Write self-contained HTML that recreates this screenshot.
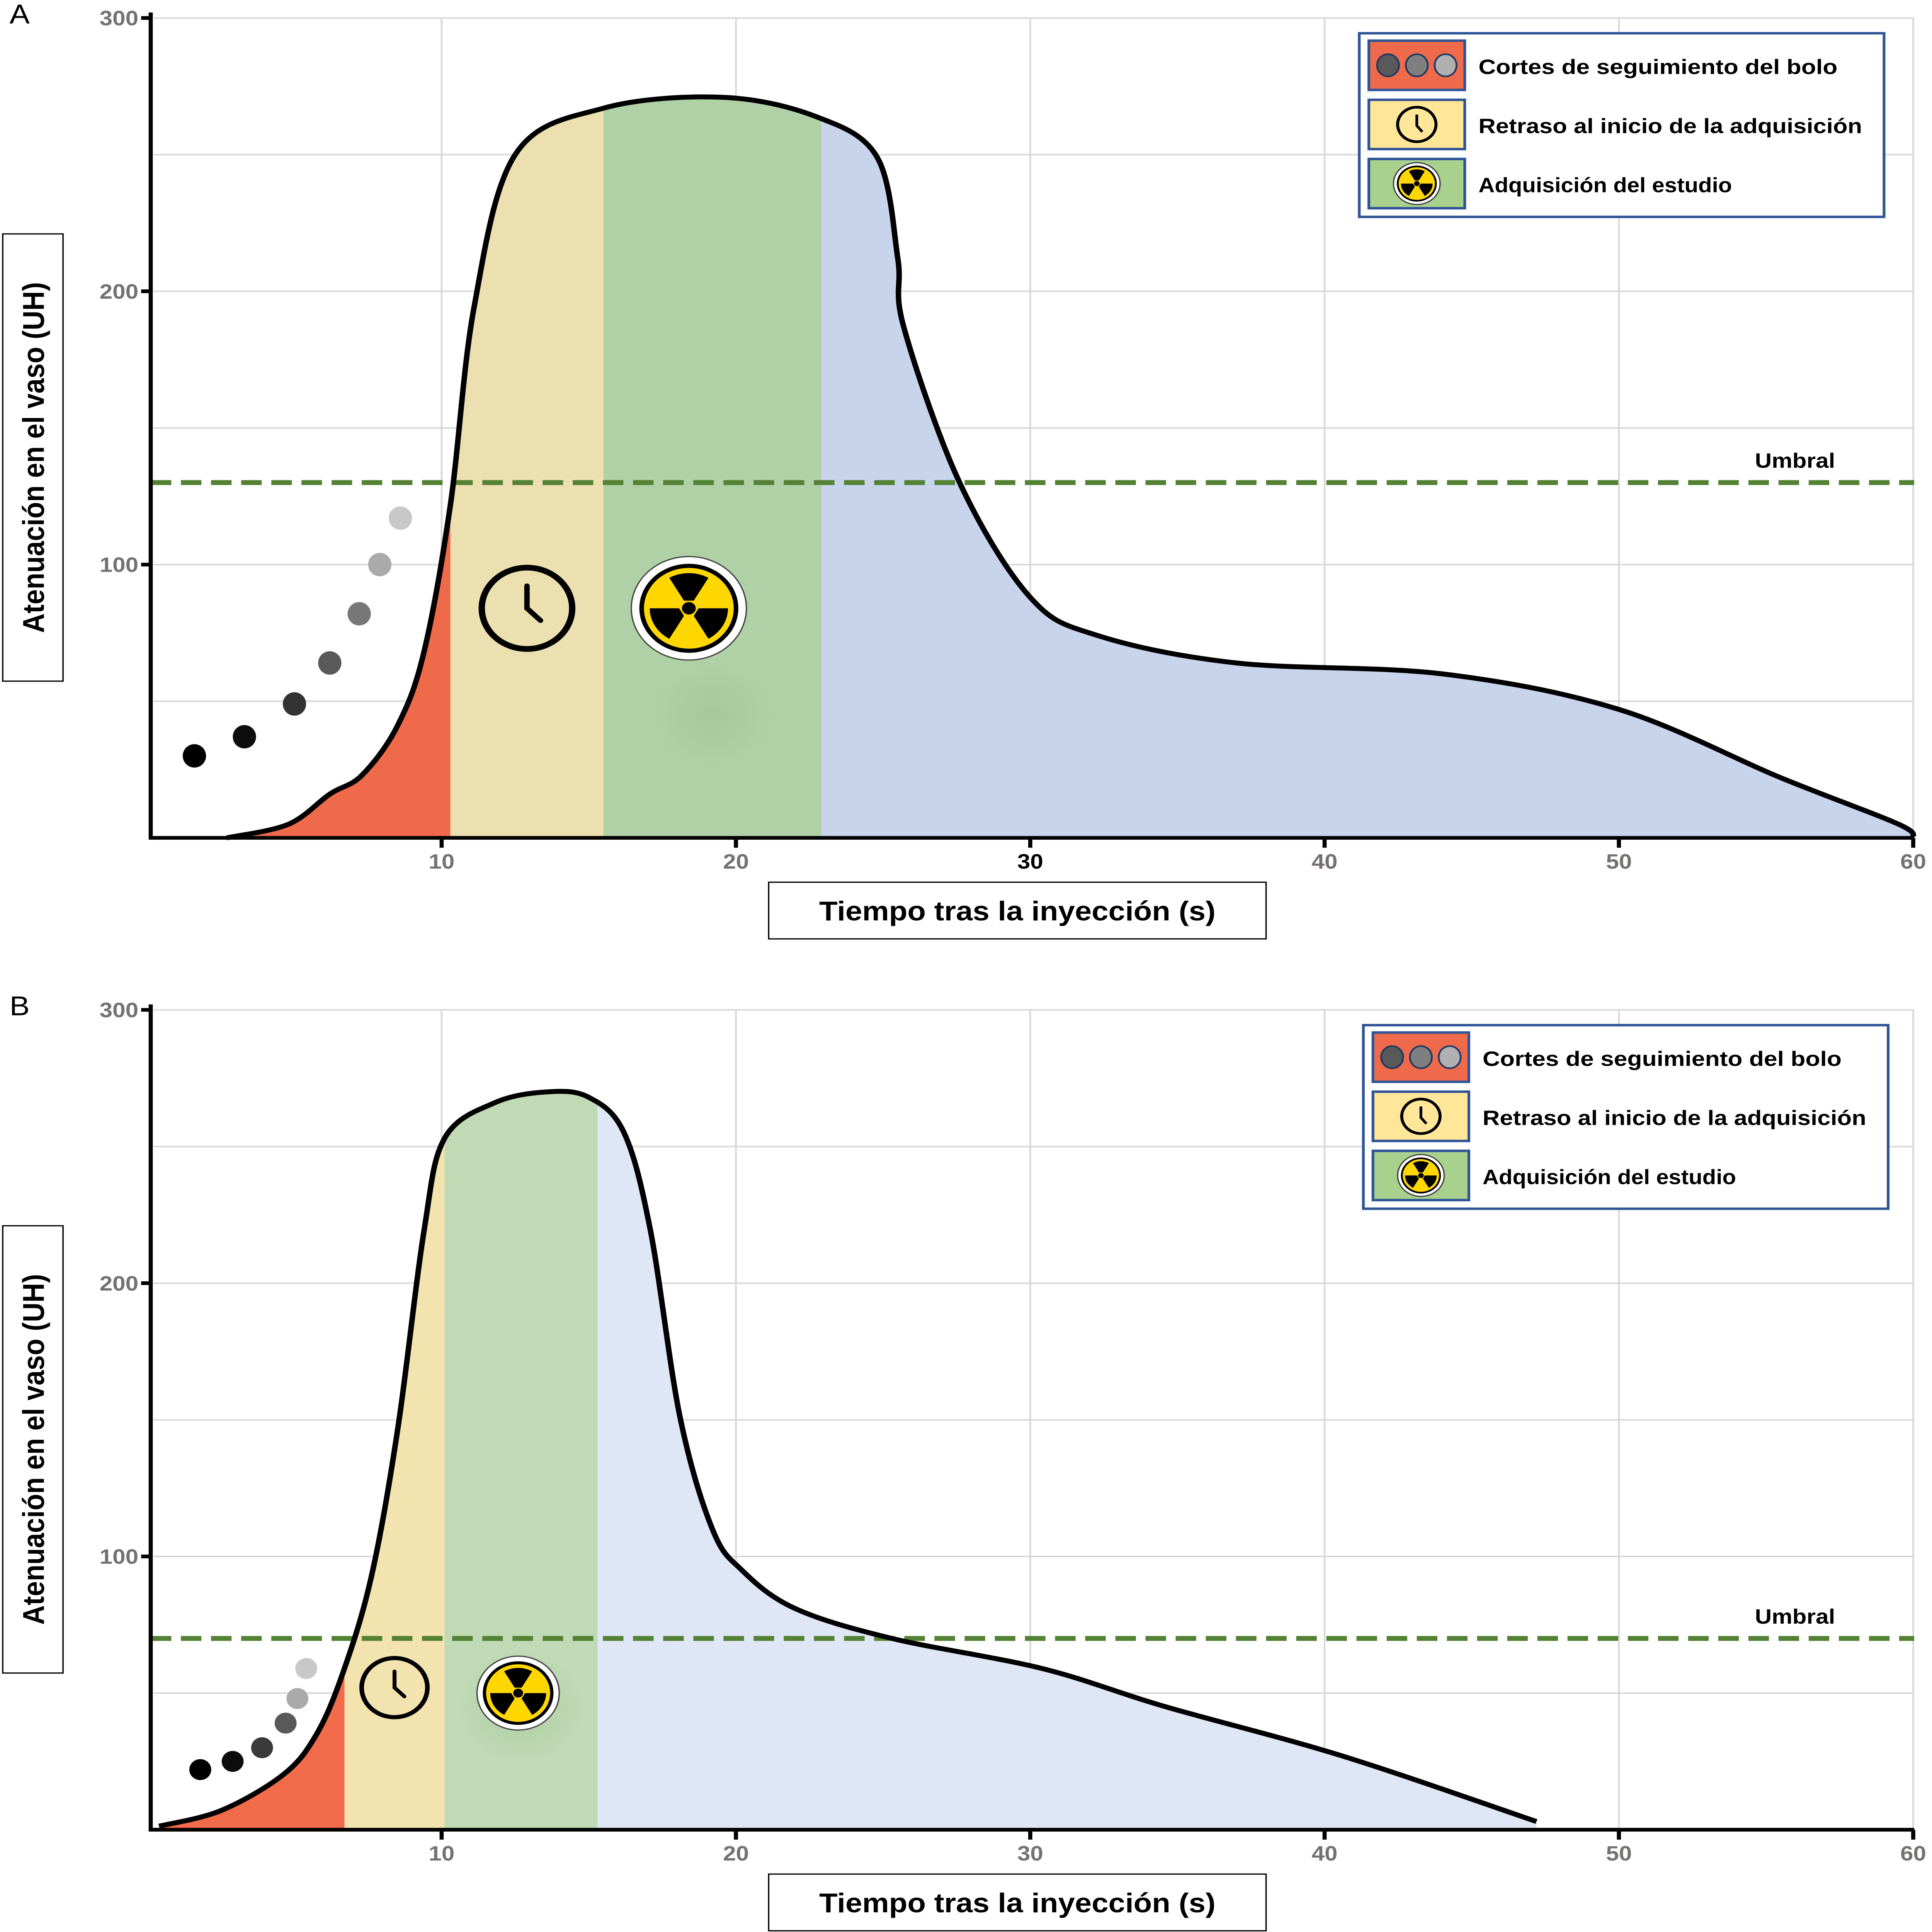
<!DOCTYPE html>
<html><head><meta charset="utf-8"><style>
html,body{margin:0;padding:0;background:#fff;width:100%;height:100%;overflow:hidden;}
svg{display:block;position:fixed;left:0;top:0;width:100vw;height:100vh;}
text{font-family:"Liberation Sans",sans-serif;}
</style></head><body>
<svg viewBox="0 0 1410 1568" preserveAspectRatio="none" xmlns="http://www.w3.org/2000/svg">
<defs>
<radialGradient id="blur"><stop offset="0" stop-color="#9cbf8c" stop-opacity="0.5"/><stop offset="1" stop-color="#9cbf8c" stop-opacity="0"/></radialGradient>
</defs>
<g id="fig"></g>
</svg>
<script>
// Panel A data
const timesA = [2.7,4.8,6.2,7.3,8.5,9.4,10.3,11.1,12.5,15.5,19.5,22.7,24.8,25.5,25.7,27.6,30,32.3,37,44,50,55.5,59.5,60];
const huA =    [0,5,16,23,41,68,122,194,250,267,271,264,249,212,187,130,88,74,64,60,47,22,5,0];
const phasesA = [10.3,15.5,22.9];
const thresholdA = 130;
const bolusTA = [1.6,3.3,5,6.2,7.2,7.9,8.6];
const bolusHA = [30,37,49,64,82,100,117];
// Panel B data
const timesB = [0.4,2.5,4.6,5.7,6.6,7.6,8.5,9.4,10.1,11.8,13.6,15,16.2,17.1,18.1,19.2,20.2,22,25.3,30.4,34.6,40.6,47.2];
const huB =    [1.3,7,20,34,56,92,146,219,253,266,270,268,255,219,151,110,95,81,70,59,45,27,3];
const phasesB = [6.7,10.1,15.3];
const thresholdB = 70;
const bolusTB = [1.8,2.9,3.9,4.7,5.1,5.4];
const bolusHB = [22,25,30,39,48,59];
const xTicks = [10,20,30,40,50,60];
const yTicks = [100,200,300];

const NS='http://www.w3.org/2000/svg';
const svg=document.getElementById('fig');
function mk(tag,attrs,parent){const e=document.createElementNS(NS,tag);for(const k in attrs)e.setAttribute(k,attrs[k]);(parent||svg).appendChild(e);return e;}
function smooth(pts){let d='M'+pts[0][0]+','+pts[0][1];for(let i=0;i<pts.length-1;i++){const p0=pts[Math.max(0,i-1)],p1=pts[i],p2=pts[i+1],p3=pts[Math.min(pts.length-1,i+2)];const c1=[p1[0]+(p2[0]-p0[0])/6,p1[1]+(p2[1]-p0[1])/6],c2=[p2[0]-(p3[0]-p1[0])/6,p2[1]-(p3[1]-p1[1])/6];d+=` C${c1[0]},${c1[1]} ${c2[0]},${c2[1]} ${p2[0]},${p2[1]}`;}return d;}

function panel(id,label,y0,times,hu,phases,thr,bt,bh,cols,clockR,radR,legY){
  const X=t=>107.5+t*21.48, Y=v=>y0-v*2.218;
  const g=mk('g',{});
  
  
  for(let v=50;v<=300;v+=50){const l=mk('line',{x1:112,x2:1397,y1:Y(v),y2:Y(v),stroke:'#d9d9d9','stroke-width':1.3},g);}
  xTicks.forEach(t=>{const l=mk('line',{x1:X(t),x2:X(t),y1:Y(300),y2:y0,stroke:'#d9d9d9','stroke-width':1.3},g);});
  const pts=times.map((t,i)=>[X(t),Y(hu[i])]);
  const dCurve=smooth(pts);
  const cid='clip'+id;
  const cp=mk('clipPath',{id:cid},g);
  mk('path',{d:dCurve+` L${X(times[times.length-1])},${y0} L${X(times[0])},${y0} Z`},cp);
  const bounds=[times[0],phases[0],phases[1],phases[2],times[times.length-1]];
  const names=['bolus-tracking-area','delay-area','acquisition-area','post-area'];
  for(let i=0;i<4;i++){const r=mk('rect',{x:X(bounds[i]),y:Y(300),width:X(bounds[i+1])-X(bounds[i]),height:y0-Y(300),fill:cols[i],'clip-path':`url(#${cid})`},g);}
  mk('ellipse',{cx:X((phases[1]+phases[2])/2),cy:Y(45),rx:45,ry:45,fill:'url(#blur)'},g);
  const th=mk('line',{x1:110,x2:1397,y1:Y(thr),y2:Y(thr),stroke:'#548235','stroke-width':4,'stroke-dasharray':'15 7'},g);
  
  const tl=mk('text',{x:1310,y:Y(thr)-12,'font-size':17,'font-weight':'bold','text-anchor':'middle'},g);tl.textContent='Umbral';
  
  const c=mk('path',{d:dCurve,fill:'none',stroke:'#000','stroke-width':4,'stroke-linejoin':'round'},g);
  
  const grays=['#000','#0d0d0d','#333','#3a3a3a','#595959','#777','#aaa','#c8c8c8'];
  bt.forEach((t,i)=>{const gi=Math.round(i*(grays.length-1)/(bt.length-1));const e=mk('ellipse',{cx:X(t),cy:Y(bh[i]),rx:id==='a'?8.5:8,ry:id==='a'?9.5:8.5,fill:grays[gi]},g);});
  const cx=X((phases[0]+phases[1])/2), cy=Y(id==='a'?84:52);
  const ck=mk('g',{},g);
  mk('circle',{cx:cx,cy:cy,r:clockR,fill:'none',stroke:'#000','stroke-width':clockR*0.14},ck);
  mk('path',{d:`M${cx},${cy-clockR*0.55} V${cy} L${cx+clockR*0.3},${cy+clockR*0.3}`,fill:'none',stroke:'#000','stroke-width':clockR*0.12,'stroke-linecap':'round'},ck);
  const rx=X(id==='a'?18.4:12.6), ry=Y(id==='a'?84:50);
  radiation(g,rx,ry,radR);
  const ax=mk('path',{d:`M110,${Y(302)} V${y0} H1397`,fill:'none',stroke:'#000','stroke-width':3},g);
  yTicks.forEach(v=>{mk('line',{x1:103,x2:110,y1:Y(v),y2:Y(v),stroke:'#000','stroke-width':3},g);const t=mk('text',{x:101,y:Y(v)+6,'font-size':17,'font-weight':'bold',fill:'#757171','text-anchor':'end'},g);t.textContent=v;});
  xTicks.forEach(v=>{mk('line',{x1:X(v),x2:X(v),y1:y0,y2:y0+8,stroke:'#000','stroke-width':3},g);const t=mk('text',{x:X(v),y:y0+25,'font-size':17,'font-weight':'bold',fill:v===30&&id==='a'?'#000':'#757171','text-anchor':'middle'},g);t.textContent=v;});
  const xb=mk('rect',{x:561,y:y0+36,width:363,height:46,fill:'#fff',stroke:'#000','stroke-width':1},g);
  const xt=mk('text',{x:742.5,y:y0+67,'font-size':22,'font-weight':'bold','text-anchor':'middle'},g);xt.textContent='Tiempo tras la inyección (s)';
  const yb=mk('rect',{x:2,y:Y(221),width:44,height:363,fill:'#fff',stroke:'#000','stroke-width':1},g);
  const ym=Y(221)+181.5;
  const yt=mk('text',{x:0,y:0,'font-size':22,'font-weight':'bold','text-anchor':'middle',transform:`translate(32,${ym}) rotate(-90)`},g);yt.textContent='Atenuación en el vaso (UH)';
  const pl=mk('text',{x:7,y:legY-8,'font-size':22},g);pl.textContent=label;
  const lx=id==='a'?992:995;
  const lg=mk('g',{},g);
  mk('rect',{x:lx,y:legY,width:383,height:149,fill:'#fff',stroke:'#2f5597','stroke-width':2},lg);
  const lc=['#ee6a4a','#ffe699','#a9d18e'];const ln=['Cortes de seguimiento del bolo','Retraso al inicio de la adquisición','Adquisición  del estudio'];
  for(let i=0;i<3;i++){const sy=legY+6+i*48;const e=mk('g',{},lg);
    mk('rect',{x:lx+7,y:sy,width:70,height:40,fill:lc[i],stroke:'#2f5597','stroke-width':2},e);
    const sx=lx+42,sc=sy+20;
    if(i===0){['#595959','#7f7f7f','#b0b0b0'].forEach((f,k)=>mk('ellipse',{cx:lx+21+k*21,cy:sc,rx:8,ry:9,fill:f,stroke:'#1f3864','stroke-width':1.3},e));}
    if(i===1){mk('path',{d:`M${sx},${sc-8} V${sc+1} L${sx+4},${sc+6}`,fill:'none',stroke:'#000','stroke-width':2},e);mk('circle',{cx:sx,cy:sc,r:14,fill:'none',stroke:'#000','stroke-width':2.2},e);}
    if(i===2){radiation(e,sx,sc,17);}
    const t=mk('text',{x:lx+87,y:sy+27,'font-size':17,'font-weight':'bold','textLength':i===1?280:(i===0?262:185),'lengthAdjust':'spacingAndGlyphs'},e);t.textContent=ln[i];}
}
function radiation(parent,cx,cy,r){
  const g=mk('g',{},parent);
  mk('circle',{cx:cx,cy:cy,r:r,fill:'#fff',stroke:'#444','stroke-width':1},g);
  mk('circle',{cx:cx,cy:cy,r:r*0.86,fill:'#000'},g);
  mk('circle',{cx:cx,cy:cy,r:r*0.78,fill:'#ffd700'},g);
  const R=r*0.68,ri=r*0.17;
  [-90,30,150].forEach(a=>{const a1=(a-30)*Math.PI/180,a2=(a+30)*Math.PI/180;
    mk('path',{d:`M${cx+ri*Math.cos(a1)},${cy+ri*Math.sin(a1)} L${cx+R*Math.cos(a1)},${cy+R*Math.sin(a1)} A${R},${R} 0 0 1 ${cx+R*Math.cos(a2)},${cy+R*Math.sin(a2)} L${cx+ri*Math.cos(a2)},${cy+ri*Math.sin(a2)} Z`,fill:'#000'},g);});
  mk('circle',{cx:cx,cy:cy,r:r*0.12,fill:'#000'},g);
}
panel('a','A',680,timesA,huA,phasesA,thresholdA,bolusTA,bolusHA,['#ee6a4a','#ecdfb0','#b0d1a6','#c8d3ec'],33,42,27);
panel('b','B',1485,timesB,huB,phasesB,thresholdB,bolusTB,bolusHB,['#f26b4a','#f3e3ae','#bfdab5','#dfe6f5'],24,30,832);
</script>
</body></html>
